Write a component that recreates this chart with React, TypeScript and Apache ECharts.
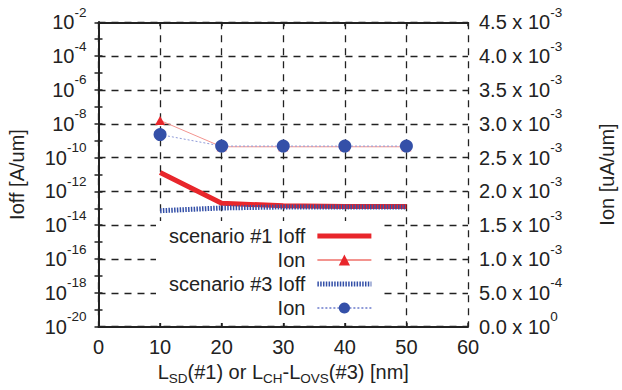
import React, { useEffect, useRef } from 'react';
import * as echarts from 'echarts';

// ---- data ----
const lengths = [10, 20, 30, 40, 50]; // nm
const ioffScenario1 = [1.3e-11, 2.0e-13, 1.4e-13, 1.3e-13, 1.3e-13]; // A/um
const ionScenario1 = [3.05e-3, 2.66e-3, 2.66e-3, 2.66e-3, 2.66e-3]; // uA/um
const ioffScenario3 = [7.2e-14, 1.05e-13, 1.2e-13, 1.2e-13, 1.2e-13]; // A/um
const ionScenario3 = [2.84e-3, 2.67e-3, 2.67e-3, 2.67e-3, 2.67e-3]; // uA/um

const seriesNames = ['scenario #1 Ioff', 'Ion #1', 'scenario #3 Ioff', 'Ion #3'];
const ioffExponentRange = [-20, -2]; // left axis: 10^-20 .. 10^-2
const ionRange = [0, 0.0045]; // right axis
const xRange = [0, 60];

const FONT = 'Liberation Sans, Arial, Helvetica, sans-serif';
const INK = '#222';
const RED = '#e8262b';
const RED_LIGHT = '#f3948f';
const BLUE = '#3450a8';
const BLUE_LIGHT = '#8f9bd8';

const supRich = {
  b: { fontSize: 20, lineHeight: 34, color: INK, fontFamily: FONT },
  s: { fontSize: 13.5, lineHeight: 15, verticalAlign: 'top', color: INK, fontFamily: FONT },
};

function pairs(xs: number[], ys: number[], f: (v: number) => number = (v) => v) {
  return xs.map((x, i) => [x, f(ys[i])]);
}

function buildOption(): any {
  const log10 = (v: number) => Math.log10(v);
  return {
    animation: false,
    textStyle: { fontFamily: FONT },
    grid: {
      left: 98.5,
      right: 154,
      top: 22.3,
      bottom: 63.3,
      containLabel: false,
      outerBoundsMode: 'none',
    },
    legend: {
      orient: 'vertical',
      align: 'right',
      left: 156,
      top: 221,
      padding: [5, 9, 5, 13],
      itemGap: 4,
      itemWidth: 54,
      itemHeight: 14,
      backgroundColor: '#fff',
      textStyle: { fontSize: 20, color: INK, fontFamily: FONT, padding: [0, 7, 0, 0] },
      formatter: (name: string) => (name.startsWith('Ion') ? 'Ion' : name),
      data: [
        { name: seriesNames[0], itemStyle: { opacity: 0 }, lineStyle: { width: 5 } },
        { name: seriesNames[1] },
        { name: seriesNames[2], itemStyle: { opacity: 0 }, lineStyle: { width: 5 } },
        { name: seriesNames[3] },
      ],
    },
    xAxis: [
      {
        type: 'value',
        position: 'bottom',
        min: xRange[0],
        max: xRange[1],
        interval: 10,
        axisLine: { show: true, lineStyle: { color: INK, width: 2 } },
        axisTick: { show: true, inside: true, length: 4, lineStyle: { color: INK, width: 1.5 } },
        axisLabel: { fontSize: 20, color: INK, margin: 10, fontFamily: FONT },
        splitLine: { show: true, lineStyle: { color: INK, width: 1.3, type: [7, 6] } },
        name: '{b|L}{s|SD}{b|(#1) or L}{s|CH}{b|-L}{s|OVS}{b|(#3) [nm]}',
        nameLocation: 'middle',
        nameGap: 20,
        nameTextStyle: {
          rich: {
            b: { fontSize: 20, lineHeight: 28, color: INK, fontFamily: FONT },
            s: { fontSize: 13.5, lineHeight: 14, verticalAlign: 'bottom', color: INK, fontFamily: FONT },
          },
        },
      },
      {
        type: 'value',
        position: 'top',
        min: xRange[0],
        max: xRange[1],
        interval: 10,
        axisLine: { show: true, lineStyle: { color: INK, width: 2 } },
        axisTick: { show: true, inside: true, length: 4, lineStyle: { color: INK, width: 1.5 } },
        axisLabel: { show: false },
        splitLine: { show: false },
      },
    ],
    yAxis: [
      {
        type: 'value',
        position: 'left',
        min: ioffExponentRange[0],
        max: ioffExponentRange[1],
        interval: 2,
        axisLine: { show: true, lineStyle: { color: INK, width: 2 } },
        axisTick: { show: true, inside: true, length: 4, lineStyle: { color: INK, width: 1.5 } },
        minorTick: { show: true, splitNumber: 2, length: 4, lineStyle: { color: INK, width: 1.5 } },
        axisLabel: {
          margin: 12,
          formatter: (v: number) => `{b|10}{s|${Math.round(v)}}`,
          rich: supRich,
        },
        splitLine: { show: true, lineStyle: { color: INK, width: 1.3, type: [7, 6] } },
        name: 'Ioff [A/um]',
        nameLocation: 'middle',
        nameRotate: 90,
        nameGap: 72,
        nameTextStyle: { fontSize: 20, color: INK, fontFamily: FONT },
      },
      {
        type: 'value',
        position: 'right',
        min: ionRange[0],
        max: ionRange[1],
        interval: 0.0005,
        axisLine: { show: true, lineStyle: { color: INK, width: 2 } },
        axisTick: { show: true, inside: true, length: 4, lineStyle: { color: INK, width: 1.5 } },
        minorTick: { show: true, splitNumber: 2, length: 4, lineStyle: { color: INK, width: 1.5 } },
        axisLabel: {
          margin: 11,
          formatter: (v: number) => {
            if (Math.abs(v) < 1e-12) return '{b|0.0 x 10}{s|0}';
            const e = Math.floor(Math.log10(v) + 1e-9);
            const m = v / Math.pow(10, e);
            return `{b|${m.toFixed(1)} x 10}{s|${e}}`;
          },
          rich: supRich,
        },
        splitLine: { show: false },
        name: 'Ion [uA/um]',
        nameLocation: 'middle',
        nameRotate: 90,
        nameGap: 129,
        nameTextStyle: { fontSize: 20, color: INK, fontFamily: FONT },
      },
    ],
    series: [
      {
        name: seriesNames[0],
        type: 'line',
        xAxisIndex: 0,
        yAxisIndex: 0,
        data: pairs(lengths, ioffScenario1, log10),
        symbol: 'none',
        lineStyle: { color: RED, width: 5 },
        itemStyle: { color: RED },
        z: 2,
      },
      {
        name: seriesNames[1],
        type: 'line',
        xAxisIndex: 0,
        yAxisIndex: 1,
        data: pairs(lengths, ionScenario1),
        symbol: 'triangle',
        symbolSize: [10, 9],
        lineStyle: { color: RED_LIGHT, width: 1 },
        itemStyle: { color: RED },
        z: 3,
      },
      {
        name: seriesNames[2],
        type: 'line',
        xAxisIndex: 0,
        yAxisIndex: 0,
        data: pairs(lengths, ioffScenario3, log10),
        symbol: 'none',
        lineStyle: { color: BLUE, width: 5, type: [1.5, 1.3] },
        itemStyle: { color: BLUE },
        z: 4,
      },
      {
        name: seriesNames[3],
        type: 'line',
        xAxisIndex: 0,
        yAxisIndex: 1,
        data: pairs(lengths, ionScenario3),
        symbol: 'circle',
        symbolSize: 13,
        lineStyle: { color: BLUE_LIGHT, width: 1, type: [2, 2] },
        itemStyle: { color: BLUE },
        z: 5,
      },
    ],
  };
}

export default function App() {
  const ref = useRef<HTMLDivElement>(null);
  useEffect(() => {
    if (!ref.current) return;
    const chart = echarts.init(ref.current, undefined, { renderer: 'svg' });
    chart.setOption(buildOption());
    return () => chart.dispose();
  }, []);
  return (
    <div
      ref={ref}
      style={{ position: 'absolute', left: 0, top: 0, width: 622, height: 390, background: '#fff' }}
    />
  );
}
